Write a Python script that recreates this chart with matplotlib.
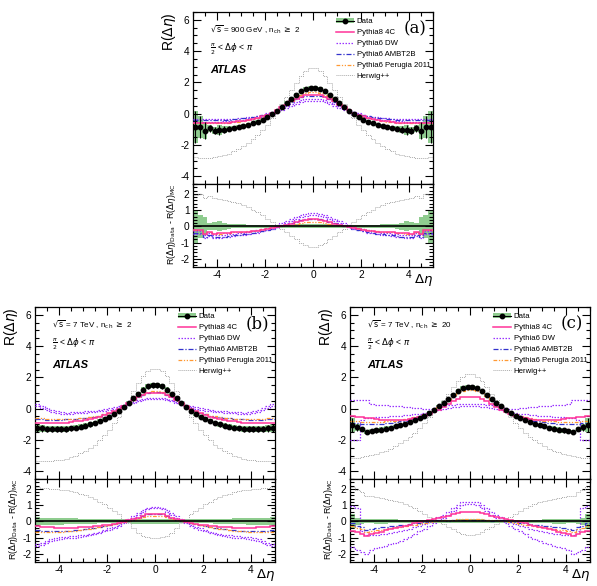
import numpy as np
import matplotlib
matplotlib.use('Agg')
import matplotlib.pyplot as plt
from matplotlib.lines import Line2D
from matplotlib.patches import Patch
from matplotlib.ticker import MultipleLocator

plt.rcParams['font.family'] = ['Liberation Sans', 'DejaVu Sans']
plt.rcParams['axes.unicode_minus'] = False

# 0.2 wide bins in delta-eta; the measurement is symmetric, values are listed
# for |delta-eta| = 0.1, 0.3, ..., 4.9 and mirrored onto the negative side
edges = np.linspace(-5, 5, 51)

mc_labels = ['Pythia8 4C', 'Pythia6 DW', 'Pythia6 AMBT2B', 'Pythia6 Perugia 2011', 'Herwig++']
panel_tags = ['(a)', '(b)', '(c)']
energy_texts = [r'$\sqrt{\rm s}$ = 900 GeV , n$_{\rm ch}$ $\geq$ 2',
                r'$\sqrt{\rm s}$ = 7 TeV , n$_{\rm ch}$ $\geq$ 2',
                r'$\sqrt{\rm s}$ = 7 TeV , n$_{\rm ch}$ $\geq$ 20']

# ---- (a) 900 GeV, nch >= 2
data_a = [1.63, 1.58, 1.42, 1.2, 0.95, 0.68, 0.42, 0.18, -0.04, -0.22, -0.38, -0.52, -0.63,
          -0.72, -0.8, -0.86, -0.92, -0.97, -1.02, -1.05, -1.08, -0.95, -1.1, -0.85, -0.85]
err_a = [0.12, 0.12, 0.12, 0.12, 0.1, 0.1, 0.1, 0.1, 0.1, 0.1, 0.1, 0.1, 0.1,
         0.1, 0.12, 0.12, 0.12, 0.15, 0.2, 0.3, 0.25, 0.2, 0.55, 0.7, 1.0]
p8_a = [1.2, 1.17, 1.08, 0.95, 0.78, 0.58, 0.4, 0.22, 0.07, -0.06, -0.17, -0.26, -0.34,
        -0.4, -0.46, -0.5, -0.54, -0.57, -0.59, -0.61, -0.62, -0.63, -0.63, -0.63, -0.63]
dw_a = [0.88, 0.86, 0.8, 0.7, 0.58, 0.44, 0.3, 0.17, 0.05, -0.05, -0.13, -0.2, -0.26,
        -0.3, -0.34, -0.37, -0.39, -0.41, -0.42, -0.43, -0.44, -0.44, -0.45, -0.45, -0.45]
dw_err_a = [0.06, 0.06, 0.06, 0.06, 0.06, 0.06, 0.06, 0.06, 0.06, 0.06, 0.06, 0.07, 0.07,
            0.07, 0.07, 0.07, 0.07, 0.08, 0.08, 0.08, 0.08, 0.09, 0.09, 0.1, 0.1]
ambt_a = [1.15, 1.12, 1.04, 0.92, 0.76, 0.58, 0.41, 0.25, 0.11, 0.0, -0.09, -0.16, -0.22,
          -0.27, -0.31, -0.34, -0.36, -0.38, -0.39, -0.4, -0.41, -0.41, -0.42, -0.42, -0.42]
perugia_a = [1.38, 1.34, 1.22, 1.05, 0.84, 0.61, 0.39, 0.19, 0.03, -0.1, -0.21, -0.3, -0.37,
             -0.43, -0.48, -0.52, -0.55, -0.57, -0.59, -0.6, -0.61, -0.61, -0.62, -0.62, -0.62]
herwig_a = [2.9, 2.75, 2.42, 1.98, 1.52, 1.05, 0.6, 0.15, -0.3, -0.7, -1.05, -1.38, -1.65,
            -1.9, -2.1, -2.27, -2.42, -2.55, -2.65, -2.73, -2.8, -2.84, -2.85, -2.83, -2.8]

# ---- (b) 7 TeV, nch >= 2
data_b = [1.48, 1.42, 1.22, 0.95, 0.66, 0.38, 0.12, -0.12, -0.33, -0.51, -0.66, -0.79, -0.9,
          -1.0, -1.08, -1.15, -1.21, -1.26, -1.29, -1.31, -1.32, -1.31, -1.3, -1.27, -1.23]
err_b = [0.15, 0.15, 0.15, 0.14, 0.14, 0.13, 0.12, 0.12, 0.12, 0.12, 0.12, 0.13, 0.14,
         0.15, 0.16, 0.17, 0.18, 0.18, 0.19, 0.2, 0.2, 0.2, 0.22, 0.23, 0.25]
p8_b = [1.02, 0.98, 0.88, 0.72, 0.53, 0.33, 0.14, -0.03, -0.18, -0.31, -0.42, -0.52, -0.6,
        -0.67, -0.73, -0.78, -0.82, -0.86, -0.89, -0.91, -0.93, -0.94, -0.95, -0.95, -0.94]
dw_b = [0.65, 0.63, 0.58, 0.5, 0.4, 0.3, 0.2, 0.12, 0.04, -0.03, -0.08, -0.12, -0.16,
        -0.2, -0.22, -0.24, -0.26, -0.28, -0.3, -0.28, -0.22, -0.15, -0.05, 0.1, 0.25]
dw_err_b = [0.04, 0.04, 0.04, 0.04, 0.04, 0.04, 0.04, 0.04, 0.04, 0.04, 0.04, 0.04, 0.04,
            0.04, 0.04, 0.04, 0.05, 0.05, 0.05, 0.05, 0.05, 0.05, 0.06, 0.06, 0.06]
ambt_b = [1.05, 1.0, 0.9, 0.74, 0.55, 0.36, 0.17, 0.0, -0.14, -0.26, -0.36, -0.44, -0.51,
          -0.56, -0.6, -0.63, -0.66, -0.68, -0.69, -0.7, -0.7, -0.7, -0.7, -0.69, -0.68]
perugia_b = [1.13, 1.08, 0.96, 0.79, 0.58, 0.37, 0.17, 0.0, -0.14, -0.26, -0.36, -0.44, -0.5,
             -0.55, -0.59, -0.62, -0.64, -0.66, -0.67, -0.67, -0.67, -0.66, -0.65, -0.63, -0.6]
herwig_b = [2.52, 2.4, 2.1, 1.65, 1.1, 0.5, -0.05, -0.55, -0.95, -1.35, -1.7, -2.0, -2.3,
            -2.5, -2.7, -2.85, -3.0, -3.1, -3.2, -3.26, -3.3, -3.32, -3.33, -3.33, -3.33]

# ---- (c) 7 TeV, nch >= 20
data_c = [1.36, 1.3, 1.12, 0.88, 0.6, 0.38, 0.15, -0.07, -0.27, -0.45, -0.6, -0.73, -0.86,
          -0.97, -1.06, -1.14, -1.21, -1.28, -1.34, -1.39, -1.44, -1.48, -1.32, -1.2, -1.05]
err_c = [0.12, 0.12, 0.12, 0.11, 0.1, 0.1, 0.1, 0.1, 0.1, 0.1, 0.1, 0.1, 0.1,
         0.1, 0.1, 0.12, 0.12, 0.14, 0.15, 0.14, 0.12, 0.12, 0.14, 0.2, 0.45]
p8_c = [0.77, 0.73, 0.62, 0.46, 0.28, 0.1, -0.06, -0.2, -0.33, -0.45, -0.54, -0.61, -0.66,
        -0.7, -0.72, -0.73, -0.73, -0.72, -0.7, -0.67, -0.63, -0.6, -0.56, -0.52, -0.48]
dw_c = [0.23, 0.22, 0.2, 0.17, 0.12, 0.06, -0.01, -0.07, -0.11, -0.14, -0.15, -0.15, -0.15,
        -0.15, -0.15, -0.15, -0.15, -0.15, -0.15, -0.15, -0.14, -0.04, -0.08, -0.73, -0.73]
dw_err_c = [0.08, 0.08, 0.08, 0.09, 0.09, 0.09, 0.09, 0.1, 0.11, 0.14, 0.17, 0.2, 0.23,
            0.26, 0.29, 0.32, 0.35, 0.37, 0.39, 0.41, 0.44, 0.59, 0.63, 1.28, 1.28]
ambt_c = [1.26, 1.2, 1.04, 0.82, 0.56, 0.32, 0.1, -0.08, -0.24, -0.38, -0.5, -0.6, -0.69,
          -0.76, -0.82, -0.87, -0.91, -0.94, -0.96, -0.97, -0.97, -0.97, -0.96, -0.94, -0.92]
perugia_c = [1.2, 1.15, 1.0, 0.79, 0.55, 0.32, 0.11, -0.06, -0.2, -0.33, -0.44, -0.53, -0.61,
             -0.67, -0.72, -0.76, -0.79, -0.81, -0.83, -0.84, -0.84, -0.84, -0.83, -0.81, -0.79]
herwig_c = [2.2, 2.05, 1.78, 1.38, 0.95, 0.55, 0.15, -0.2, -0.55, -0.9, -1.25, -1.55, -1.8,
            -2.02, -2.22, -2.4, -2.55, -2.68, -2.8, -2.9, -2.98, -3.05, -3.1, -3.13, -3.15]


def full(half):
    half = np.asarray(half, dtype=float)
    return np.concatenate([half[::-1], half])


green = '#8fcc8f'
styles = {
    'p8': dict(color='#ff3399', lw=1.1, ls='-'),
    'dw': dict(color='#9933ff', lw=0.9, ls=(0, (1.2, 1.2))),
    'ambt': dict(color='#3333cc', lw=0.9, ls=(0, (4, 1.5, 1, 1.5))),
    'perugia': dict(color='#ff9933', lw=0.9, ls=(0, (3, 1.3, 1, 1.3, 1, 1.3))),
    'herwig': dict(color='#aaaaaa', lw=0.7, ls=(0, (1, 1))),
}

panels = [
    dict(data=data_a, err=err_a, p8=p8_a, dw=dw_a, dw_err=dw_err_a, ambt=ambt_a,
         perugia=perugia_a, herwig=herwig_a, left=193, top=12),
    dict(data=data_b, err=err_b, p8=p8_b, dw=dw_b, dw_err=dw_err_b, ambt=ambt_b,
         perugia=perugia_b, herwig=herwig_b, left=35, top=307),
    dict(data=data_c, err=err_c, p8=p8_c, dw=dw_c, dw_err=dw_err_c, ambt=ambt_c,
         perugia=perugia_c, herwig=herwig_c, left=350, top=307),
]

W, H = 597, 586
fig = plt.figure(figsize=(W / 100, H / 100), dpi=100)


def style_axis(ax, ymajor, yminor):
    ax.set_xlim(-5, 5)
    ax.xaxis.set_major_locator(MultipleLocator(2))
    ax.xaxis.set_minor_locator(MultipleLocator(0.5))
    ax.yaxis.set_major_locator(MultipleLocator(ymajor))
    ax.yaxis.set_minor_locator(MultipleLocator(yminor))
    ax.tick_params(which='both', direction='in', top=True, right=True, labelsize=7.3, width=0.8)
    ax.tick_params(which='major', length=6, pad=2.5)
    ax.tick_params(which='minor', length=3)
    for s in ax.spines.values():
        s.set_linewidth(0.9)


centers = 0.5 * (edges[1:] + edges[:-1])

for i, p in enumerate(panels):
    l = p['left'] / W
    w = 240 / W
    main_h = 172
    ratio_h = 83
    top = p['top']
    ax_m = fig.add_axes([l, (H - top - main_h) / H, w, main_h / H])
    ax_r = fig.add_axes([l, (H - top - main_h - ratio_h) / H, w, ratio_h / H])

    data = full(p['data'])
    err = full(p['err'])
    dw = full(p['dw'])
    dw_err = full(p['dw_err'])

    # main panel
    ax_m.stairs(data + err, edges, baseline=data - err, fill=True, color=green, lw=0, zorder=1)
    ax_m.stairs(full(p['herwig']), edges, baseline=None, zorder=2, **styles['herwig'])
    ax_m.stairs(dw + dw_err, edges, baseline=None, zorder=3, **styles['dw'])
    ax_m.stairs(dw - dw_err, edges, baseline=None, zorder=3, **styles['dw'])
    for key in ['ambt', 'perugia', 'p8']:
        ax_m.stairs(full(p[key]), edges, baseline=None, zorder=4, **styles[key])
    ax_m.errorbar(centers, data, yerr=err, fmt='o', color='black', ms=3.2,
                  elinewidth=0.8, capsize=0, zorder=6)
    ax_m.set_ylim(-4.5, 6.5)
    style_axis(ax_m, 2, 0.5)
    ax_m.tick_params(labelbottom=False)
    ax_m.set_ylabel(r'R($\Delta\eta$)', fontsize=10, loc='top', labelpad=2)

    ax_m.text(0.07, 0.9, energy_texts[i], transform=ax_m.transAxes, fontsize=5.8, va='center')
    ax_m.text(0.07, 0.785, r'$\frac{\pi}{2}$ < $\Delta\phi$ < $\pi$', transform=ax_m.transAxes,
              fontsize=6.2, va='center')
    ax_m.text(0.07, 0.665, 'ATLAS', transform=ax_m.transAxes, fontsize=8,
              fontweight='bold', fontstyle='italic', va='center')
    ax_m.text(0.925, 0.9, panel_tags[i], transform=ax_m.transAxes, fontsize=12,
              family='DejaVu Serif', ha='center', va='center')

    handles = [(Patch(facecolor=green, edgecolor='none'),
                Line2D([], [], color='black', marker='o', ms=3.2, lw=0.8))]
    for key in ['p8', 'dw', 'ambt', 'perugia', 'herwig']:
        handles.append(Line2D([], [], **styles[key]))
    ax_m.legend(handles, ['Data'] + mc_labels, loc='upper left', bbox_to_anchor=(0.595, 0.965),
                frameon=False, fontsize=5.6, handlelength=2.3, handletextpad=0.4,
                labelspacing=0.45, borderpad=0, borderaxespad=0)

    # difference panel: data - MC
    ax_r.stairs(err, edges, baseline=-err, fill=True, color=green, lw=0, zorder=1)
    ax_r.axhline(0, color='black', lw=1.2, zorder=5)
    ax_r.stairs(data - full(p['herwig']), edges, baseline=None, zorder=2, **styles['herwig'])
    ax_r.stairs(data - (dw + dw_err), edges, baseline=None, zorder=3, **styles['dw'])
    ax_r.stairs(data - (dw - dw_err), edges, baseline=None, zorder=3, **styles['dw'])
    for key in ['ambt', 'perugia', 'p8']:
        ax_r.stairs(data - full(p[key]), edges, baseline=None, zorder=4, **styles[key])
    ax_r.set_ylim(-2.5, 2.6)
    style_axis(ax_r, 1, 0.2)
    ax_r.set_ylabel(r'R($\Delta\eta$)$_{\rm Data}$ - R($\Delta\eta$)$_{\rm MC}$',
                    fontsize=6.3, loc='top', labelpad=2)
    ax_r.annotate(r'$\Delta\eta$', xy=(1, 0), xycoords='axes fraction', xytext=(0, -15),
                  textcoords='offset points', ha='right', va='bottom', fontsize=9.5)

fig.savefig('out.png', dpi=100)
